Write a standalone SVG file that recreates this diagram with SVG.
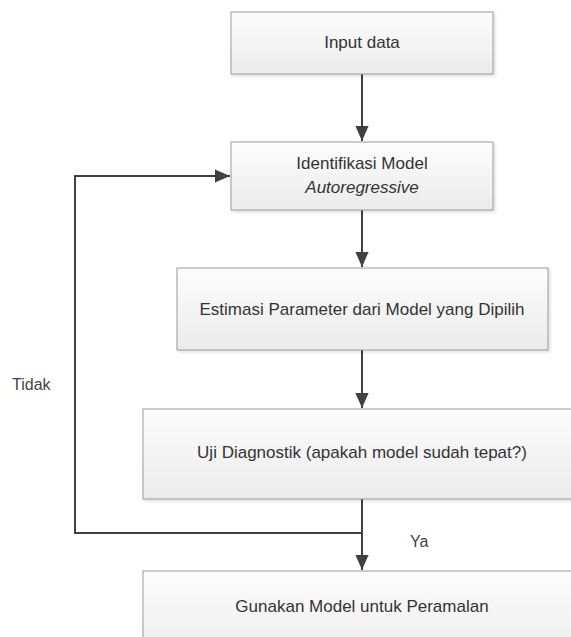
<svg xmlns="http://www.w3.org/2000/svg" width="571" height="637" viewBox="0 0 571 637">
<style>
.box{fill:url(#g);stroke:#9a9a9a;stroke-width:1;filter:url(#sh)}
.t{font-family:"Liberation Sans",Arial,sans-serif;font-size:17px;fill:#333;text-anchor:middle}
.l{font-family:"Liberation Sans",Arial,sans-serif;font-size:16px;fill:#444}
.c{fill:none;stroke:#404040;stroke-width:2}
</style>
<defs>
<linearGradient id="g" x1="0" y1="0" x2="0" y2="1">
<stop offset="0" stop-color="#fdfdfd"/>
<stop offset="1" stop-color="#ebebeb"/>
</linearGradient>
<filter id="sh" x="-5%" y="-5%" width="115%" height="125%">
<feDropShadow dx="2" dy="2" stdDeviation="1.5" flood-color="#000" flood-opacity="0.12"/>
</filter>
<marker id="a" markerWidth="7.5" markerHeight="6.6" refX="7.5" refY="3.3" orient="auto" markerUnits="strokeWidth">
<path d="M0,0 L7.5,3.3 L0,6.6 Z" fill="#404040"/>
</marker>
</defs>
<rect width="571" height="637" fill="#fff"/>
<g id="connectors">
<line class="c" x1="362" y1="74" x2="362" y2="141" marker-end="url(#a)"/>
<line class="c" x1="362" y1="210" x2="362" y2="267" marker-end="url(#a)"/>
<line class="c" x1="362" y1="350" x2="362" y2="408" marker-end="url(#a)"/>
<line class="c" x1="362" y1="499" x2="362" y2="570" marker-end="url(#a)"/>
<polyline class="c" points="362,533 75,533 75,176 230,176" marker-end="url(#a)"/>
</g>
<g id="input"><rect class="box" x="231" y="12" width="262" height="62"/><text class="t" x="362" y="48">Input data</text></g>
<g id="identifikasi"><rect class="box" x="231" y="142" width="262" height="68"/><text class="t" x="362" y="169">Identifikasi Model</text><text class="t" x="362" y="193" font-style="italic">Autoregressive</text></g>
<g id="estimasi"><rect class="box" x="177" y="268" width="371" height="82"/><text class="t" x="362" y="315">Estimasi Parameter dari Model yang Dipilih</text></g>
<g id="uji"><rect class="box" x="143" y="409" width="438" height="90"/><text class="t" x="362" y="458">Uji Diagnostik (apakah model sudah tepat?)</text></g>
<g id="gunakan"><rect class="box" x="143" y="571" width="438" height="90"/><text class="t" x="362" y="612">Gunakan Model untuk Peramalan</text></g>
<text class="l" x="12" y="390">Tidak</text>
<text class="l" x="410" y="547">Ya</text>
</svg>
